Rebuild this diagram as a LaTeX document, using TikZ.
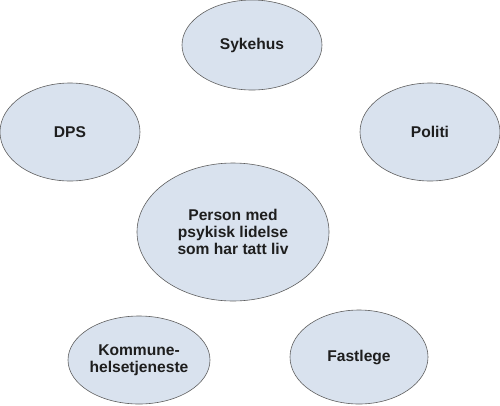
\documentclass[tikz,border=0pt]{standalone}
\usepackage{fontspec}
\setmainfont{Liberation Sans}
\usepackage{tikz}
\usetikzlibrary{shapes,positioning}
\definecolor{ellfill}{RGB}{217,226,238}
\definecolor{ellline}{RGB}{95,95,95}
\definecolor{elltext}{RGB}{30,30,30}

\begin{document}
\begin{tikzpicture}[x=1pt, y=-1pt,
	ellnode/.style={ellipse, draw=ellline, fill=ellfill, line width=0.6pt, inner sep=0pt, align=center, text=elltext, font=\fontsize{15.6}{17.2}\selectfont\bfseries},
	]
	\useasboundingbox (0,0) rectangle (500,405);
	
	%Nodes
	\node[ellnode, minimum width=192pt, minimum height=138pt] (Person) at (233,232) {Person med\\psykisk lidelse\\som har tatt liv};
	\node[ellnode, minimum width=140pt, minimum height=90pt] (Sykehus) at (252,45) {Sykehus};
	\node[ellnode, minimum width=140pt, minimum height=98pt] (DPS) at (70,132) {DPS};
	\node[ellnode, minimum width=140pt, minimum height=98pt] (Politi) at (430,132) {Politi};
	\node[ellnode, minimum width=142pt, minimum height=88pt] (Kommune) at (139,360) {Kommune-\\helsetjeneste};
	\node[ellnode, minimum width=138pt, minimum height=94pt] (Fastlege) at (359,357) {Fastlege};
	
\end{tikzpicture}
\end{document}
